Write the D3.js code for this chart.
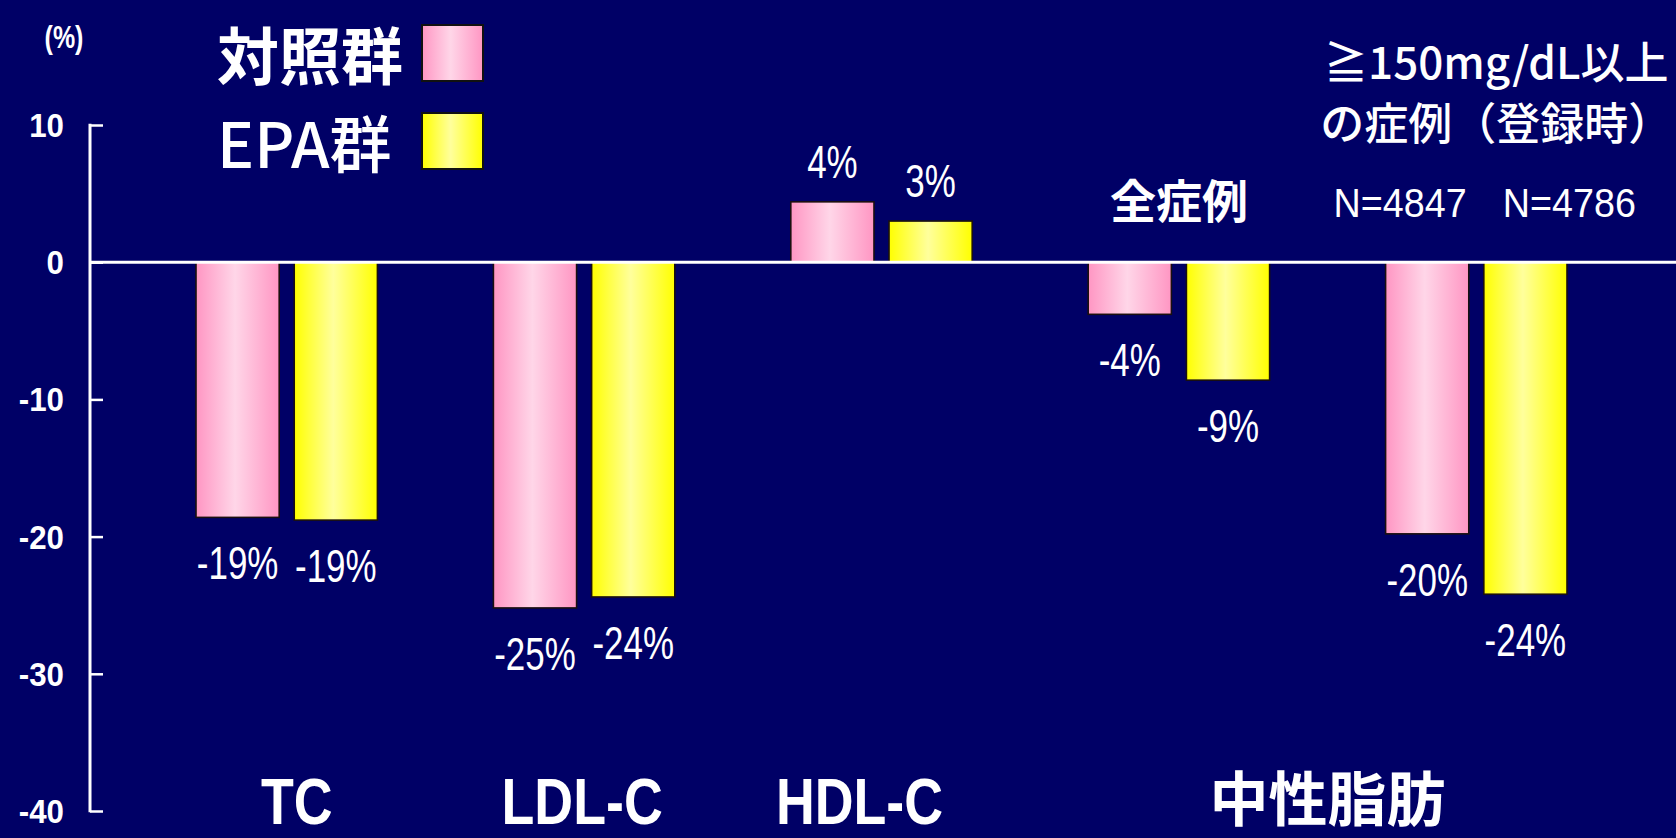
<!DOCTYPE html>
<html lang="ja">
<head>
<meta charset="utf-8">
<script src="https://cdn.jsdelivr.net/npm/d3@7"></script>
<style>
  html, body { margin: 0; padding: 0; background: #000066; }
  svg { display: block; }
</style>
</head>
<body>
<svg id="chart" width="1676" height="838"></svg>
<script>
// ---- data -------------------------------------------------------------
const groupKeys = ["TC", "LDL-C", "HDL-C", "TG_all", "TG_150"];
const seriesNames = ["対照群", "EPA群"];
const controlValues = [-18.6, -25.2, 4.4, -3.8, -19.8];   // % change, 対照群
const epaValues     = [-18.8, -24.4, 3.0, -8.6, -24.2];   // % change, EPA群
const yTicks = [10, 0, -10, -20, -30, -40];
const axisLabels = [
  { text: "TC",      groups: ["TC"] },
  { text: "LDL-C",   groups: ["LDL-C"] },
  { text: "HDL-C",   groups: ["HDL-C"] },
  { text: "中性脂肪", groups: ["TG_all", "TG_150"] }
];
const subsetNote = ["≧150mg/dL以上", "の症例（登録時）"];
const allCasesNote = "全症例";
const countLabels = ["N=4847", "N=4786"];

// ---- layout -----------------------------------------------------------
const W = 1676, H = 838;
const svg = d3.select("#chart");
const LATIN = "'Liberation Sans', Arial, sans-serif";
const CJK = "'Noto Sans CJK JP', 'Noto Sans CJK SC', sans-serif";
const isCJK = s => /[^\x00-\x7f]/.test(s);

const y = d3.scaleLinear().domain([-40, 10]).range([811, 125]);
const x = d3.scaleBand().domain(groupKeys).range([196, 1567])
  .paddingInner(0.39).paddingOuter(0);
const xs = d3.scaleBand().domain(seriesNames).range([0, x.bandwidth()])
  .paddingInner(0.153).paddingOuter(0);

// small horizontal nudges for the category captions
const captionShift = { "TC": 10, "LDL-C": -2, "HDL-C": -22 };

const rows = groupKeys.map((g, i) => ({
  group: g,
  values: [
    { series: seriesNames[0], value: controlValues[i] },
    { series: seriesNames[1], value: epaValues[i] }
  ]
}));

// narrow Latin lettering: regular glyphs squeezed horizontally
const condensed = (sel, fx, fy, sx) =>
  sel.attr("x", 0).attr("y", 0)
     .attr("transform", (d, i) => `translate(${fx(d, i)},${fy(d, i)}) scale(${sx},1)`);

// ---- gradients --------------------------------------------------------
const defs = svg.append("defs");
function barGradient(id, edge, mid) {
  const g = defs.append("linearGradient").attr("id", id)
    .attr("x1", "0%").attr("x2", "100%").attr("y1", "0%").attr("y2", "0%");
  g.append("stop").attr("offset", "0%").attr("stop-color", edge);
  g.append("stop").attr("offset", "47%").attr("stop-color", mid);
  g.append("stop").attr("offset", "100%").attr("stop-color", edge);
}
barGradient("gradPink", "#ff96c3", "#ffd6e8");
barGradient("gradYellow", "#ffff00", "#ffff9c");
const fill = d3.scaleOrdinal().domain(seriesNames)
  .range(["url(#gradPink)", "url(#gradYellow)"]);

// ---- y axis -----------------------------------------------------------
const axisX = 90;
const yAxis = d3.axisRight(y).tickValues(yTicks).tickSize(13).tickFormat("");
const axisG = svg.append("g").attr("transform", `translate(${axisX},0)`).call(yAxis);
axisG.select(".domain").remove();
axisG.selectAll(".tick line").attr("stroke", "#fff").attr("stroke-width", 2.5);
axisG.append("line")
  .attr("x1", 0).attr("x2", 0).attr("y1", y(10) - 1.2).attr("y2", y(-40) + 1.2)
  .attr("stroke", "#fff").attr("stroke-width", 3);

svg.append("g").selectAll("text").data(yTicks).join("text")
  .call(condensed, () => 64, d => y(d) + 12, 0.92)
  .attr("text-anchor", "end")
  .attr("fill", "#fff")
  .attr("font-family", LATIN).attr("font-weight", "bold").attr("font-size", 34)
  .text(d => d);

svg.append("g").selectAll("text").data(["(%)"]).join("text")
  .call(condensed, () => 64, () => 48, 0.78)
  .attr("text-anchor", "middle").attr("fill", "#fff")
  .attr("font-family", LATIN).attr("font-weight", "bold").attr("font-size", 32)
  .text(d => d);

// ---- bars -------------------------------------------------------------
const groups = svg.append("g").selectAll("g").data(rows).join("g")
  .attr("transform", d => `translate(${x(d.group)},0)`);

groups.selectAll("rect").data(d => d.values).join("rect")
  .attr("x", d => xs(d.series))
  .attr("width", xs.bandwidth())
  .attr("y", d => y(Math.max(0, d.value)))
  .attr("height", d => Math.abs(y(d.value) - y(0)))
  .attr("fill", d => fill(d.series))
  .attr("stroke", "#1a1010").attr("stroke-width", 1.6);

groups.selectAll("text.val").data(d => d.values).join("text")
  .attr("class", "val")
  .call(condensed,
        d => xs(d.series) + xs.bandwidth() / 2,
        d => d.value >= 0 ? y(d.value) - 24 : y(d.value) + 62,
        0.76)
  .attr("text-anchor", "middle").attr("fill", "#fff")
  .attr("font-family", LATIN).attr("font-size", 46)
  .text(d => `${Math.round(d.value)}%`);

// zero line
svg.append("line")
  .attr("x1", axisX).attr("x2", W).attr("y1", y(0)).attr("y2", y(0))
  .attr("stroke", "#fff").attr("stroke-width", 3);

// ---- category labels --------------------------------------------------
const labelX = d => {
  const first = x(d.groups[0]);
  const last = x(d.groups[d.groups.length - 1]) + x.bandwidth();
  return (first + last) / 2 + (captionShift[d.text] || 0);
};
const catG = svg.append("g");
catG.selectAll("text.lat").data(axisLabels.filter(d => !isCJK(d.text))).join("text")
  .attr("class", "lat")
  .call(condensed, labelX, () => 824, 0.84)
  .attr("text-anchor", "middle").attr("fill", "#fff")
  .attr("font-family", LATIN).attr("font-weight", "bold").attr("font-size", 64)
  .text(d => d.text);
catG.selectAll("text.cjk").data(axisLabels.filter(d => isCJK(d.text))).join("text")
  .attr("class", "cjk")
  .attr("x", labelX).attr("y", 821)
  .attr("text-anchor", "middle").attr("fill", "#fff")
  .attr("font-family", CJK).attr("font-weight", "bold").attr("font-size", 59)
  .text(d => d.text);

// ---- legend -----------------------------------------------------------
const legend = svg.append("g");
const legendRows = [
  { name: seriesNames[0], cy: 53, weight: "bold" },
  { name: seriesNames[1], cy: 141, weight: "500" }
];
legend.selectAll("text").data(legendRows).join("text")
  .attr("x", 217).attr("y", d => d.cy)
  .attr("dominant-baseline", "central")
  .attr("fill", "#fff")
  .attr("font-family", CJK).attr("font-weight", d => d.weight).attr("font-size", 62)
  .text(d => d.name);
legend.selectAll("rect").data(legendRows).join("rect")
  .attr("x", 422).attr("y", d => d.cy - 28)
  .attr("width", 61).attr("height", 56)
  .attr("fill", d => fill(d.name))
  .attr("stroke", "#111").attr("stroke-width", 2);

// ---- notes ------------------------------------------------------------
const tgCenter = x("TG_150") + x.bandwidth() / 2;
svg.append("g").selectAll("text").data(subsetNote).join("text")
  .attr("x", tgCenter + 20).attr("y", (d, i) => 60 + i * 61)
  .attr("dominant-baseline", "central")
  .attr("text-anchor", "middle").attr("fill", "#fff")
  .attr("font-family", CJK).attr("font-weight", "500").attr("font-size", 44)
  .text(d => d);

svg.append("g").selectAll("text").data(countLabels).join("text")
  .call(condensed,
        (d, i) => x("TG_150") + xs(seriesNames[i]) + xs.bandwidth() / 2 + (i === 0 ? -27 : 44),
        () => 217, 0.92)
  .attr("text-anchor", "middle").attr("fill", "#fff")
  .attr("font-family", LATIN).attr("font-size", 41)
  .text(d => d);

svg.append("text")
  .attr("x", x("TG_all") + x.bandwidth() / 2).attr("y", 198)
  .attr("dominant-baseline", "central")
  .attr("text-anchor", "middle").attr("fill", "#fff")
  .attr("font-family", CJK).attr("font-weight", "bold").attr("font-size", 46)
  .text(allCasesNote);
</script>
</body>
</html>
